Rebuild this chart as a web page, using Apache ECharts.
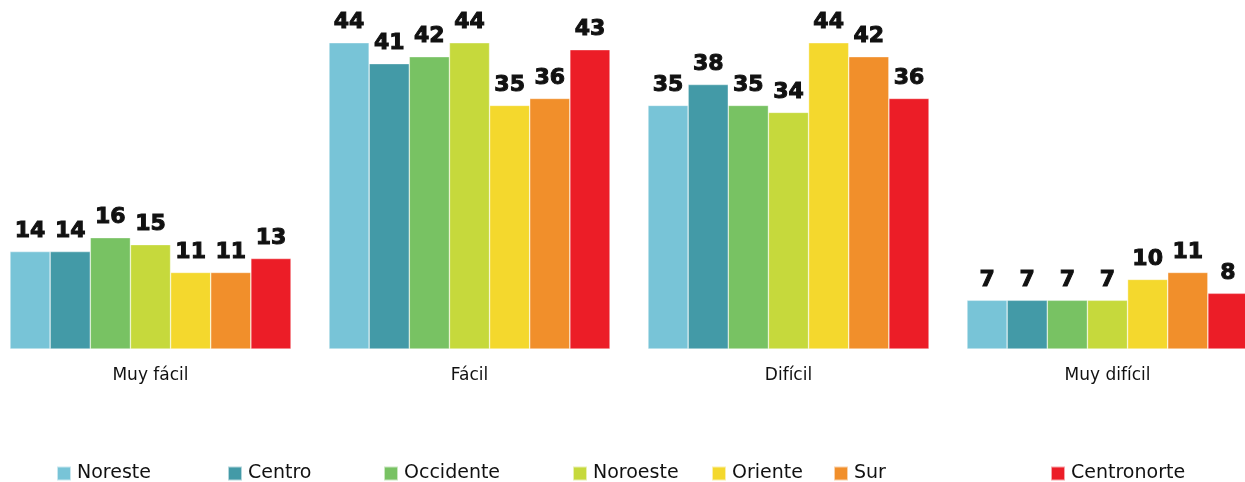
<!DOCTYPE html>
<html>
<head>
<meta charset="utf-8">
<script src="https://cdn.jsdelivr.net/npm/echarts@6/dist/echarts.min.js"></script>
<style>
  html, body { margin: 0; padding: 0; background: #fff; overflow: hidden; }
  #chart { width: 1276px; height: 482px; margin-left: -9px; }
</style>
</head>
<body>
<div id="chart"></div>
<script>
// categorias y valores (%)
var categories = ['Muy fácil', 'Fácil', 'Difícil', 'Muy difícil'];
var regions = ['Noreste', 'Centro', 'Occidente', 'Noroeste', 'Oriente', 'Sur', 'Centronorte'];
var noreste     = [14, 44, 35, 7];
var centro      = [14, 41, 38, 7];
var occidente   = [16, 42, 35, 7];
var noroeste    = [15, 44, 34, 7];
var oriente     = [11, 35, 44, 10];
var sur         = [11, 36, 42, 11];
var centronorte = [13, 43, 36, 8];

var values = [noreste, centro, occidente, noroeste, oriente, sur, centronorte];
var colors = ['#78C4D7', '#439AA7', '#78C263', '#C6D93C', '#F4D82D', '#F18F2B', '#EC1D27'];
// posicion x de cada icono de la leyenda (en la pagina)
var legendLeft = [56, 227, 383, 572, 711, 833, 1050];

var myChart = echarts.init(document.getElementById('chart'));

var series = regions.map(function (name, i) {
  return {
    name: name,
    type: 'bar',
    data: values[i],
    barGap: '0%',
    barCategoryGap: '11.9%',
    itemStyle: { color: colors[i], borderColor: 'rgba(255,255,255,0.6)', borderWidth: 0.6 },
    label: {
      show: true,
      position: 'top',
      distance: 9,
      color: '#111',
      fontFamily: 'DejaVu Sans',
      fontWeight: 'bold',
      fontSize: 22,
      textBorderColor: '#111',
      textBorderWidth: 1
    }
  };
});

// una leyenda por region para fijar las posiciones
var legends = regions.map(function (name, i) {
  return {
    data: [name],
    left: legendLeft[i] + 9,
    top: 464,
    icon: 'rect',
    itemWidth: 14,
    itemHeight: 14,
    itemGap: 0,
    padding: 0,
    selectedMode: false,
    textStyle: { fontFamily: 'DejaVu Sans', fontSize: 19, color: '#111', padding: [0, 0, 0, 1] }
  };
});

var option = {
  animation: false,
  color: colors,
  legend: legends,
  grid: { left: 0, right: 0, top: 1, bottom: 133, containLabel: false },
  xAxis: {
    type: 'category',
    data: categories,
    axisLine: { show: false },
    axisTick: { show: false },
    axisLabel: { margin: 18, fontFamily: 'DejaVu Sans', fontSize: 17, color: '#111' }
  },
  yAxis: {
    type: 'value',
    min: 0,
    max: 50,
    show: false,
    splitLine: { show: false }
  },
  series: series
};

myChart.setOption(option);
</script>
</body>
</html>
